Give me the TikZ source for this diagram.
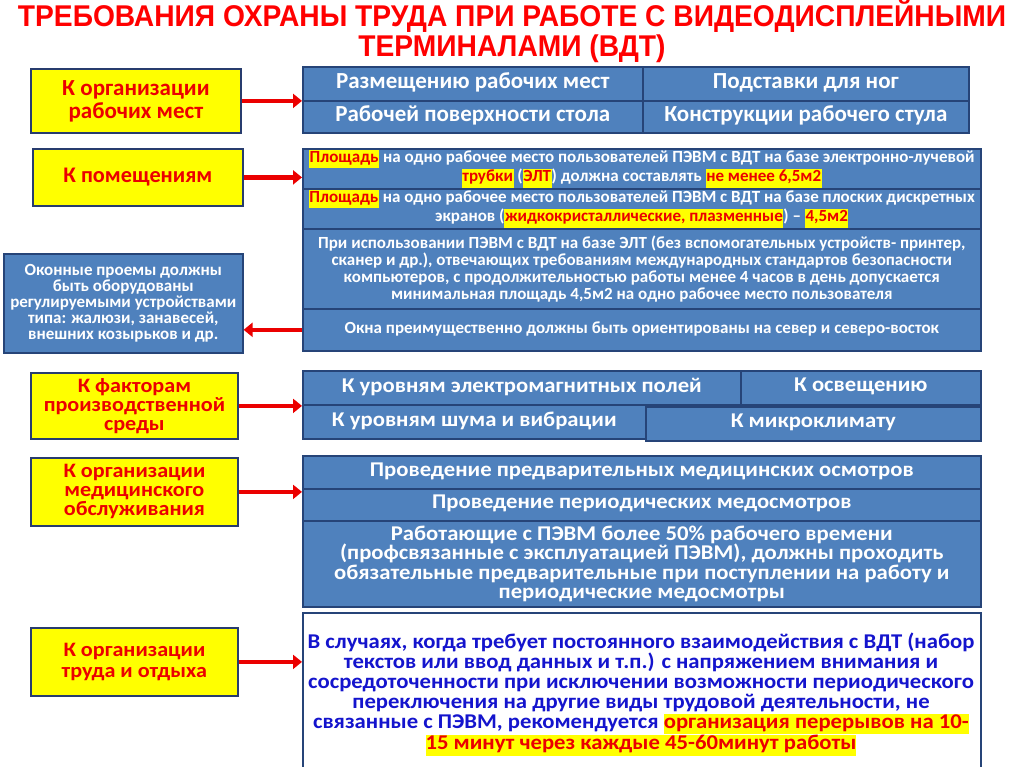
\documentclass[tikz,border=0pt]{standalone}
\usepackage{fontspec}
\setmainfont{Carlito}
\newfontfamily\titlefont{Liberation Sans}
\newfontfamily\widefont[FakeStretch=1.08]{Carlito}
\usetikzlibrary{arrows.meta}
\definecolor{boxblue}{RGB}{79,129,189}
\definecolor{bordblue}{RGB}{38,68,120}
\definecolor{ybord}{RGB}{40,60,110}
\definecolor{hlyellow}{RGB}{255,255,0}
\definecolor{txtred}{RGB}{235,0,0}
\definecolor{txtblue}{RGB}{20,20,205}
\newcommand\hlr[1]{{\setlength\fboxsep{0.6pt}\colorbox{hlyellow}{\color{txtred}\strut #1}}}
\newcommand\hlb[1]{{\setlength\fboxsep{0pt}\colorbox{hlyellow}{\color{txtred}\strut #1}}}
\tikzset{
  cell/.style={draw=bordblue, fill=boxblue, line width=1.6pt, text=white, align=center, inner sep=0pt, anchor=north west},
  ybox/.style={draw=ybord, fill=hlyellow, line width=1.8pt, text=txtred, align=center, inner sep=0pt, anchor=north west},
  arr/.style={draw=txtred, line width=4.5pt, -{Triangle[length=9pt,width=14pt]}},
  sl/.style={execute at begin node=\strut},
  big/.style={font=\bfseries\fontsize{23}{23}\selectfont},
  mid/.style={font=\widefont\bfseries\fontsize{21}{19.5}\selectfont},
  ynarrow/.style={font=\widefont\bfseries\fontsize{20.5}{19}\selectfont},
  small/.style={font=\bfseries\fontsize{17}{17}\selectfont},
}
\begin{document}
\begin{tikzpicture}[x=1pt,y=-1pt]
\useasboundingbox[fill=white] (0,0) rectangle (1024,767);
% title
\node[text=red, align=center, font=\titlefont\bfseries\fontsize{30}{30}\selectfont] (title) at (512,31)
  {\scalebox{0.94}[1]{ТРЕБОВАНИЯ ОХРАНЫ ТРУДА ПРИ РАБОТЕ С ВИДЕОДИСПЛЕЙНЫМИ}\\\scalebox{0.94}[1]{ТЕРМИНАЛАМИ (ВДТ)}};
% group 1
\node[ybox, big, minimum width=210pt, minimum height=64pt] (y1) at (30,68) {К организации\\рабочих мест};
\node[cell, big, sl, minimum width=340pt, minimum height=34pt] (r11) at (302,66) {Размещению рабочих мест};
\node[cell, big, sl, minimum width=326pt, minimum height=34pt] (r12) at (642,66) {Подставки для ног};
\node[cell, big, sl, minimum width=340pt, minimum height=32pt] (r21) at (302,100) {Рабочей поверхности стола};
\node[cell, big, sl, minimum width=326pt, minimum height=32pt] (r22) at (642,100) {Конструкции рабочего стула};
\draw[arr] (y1.east) -- (y1.east -| r21.west);
% group 2
\node[ybox, font=\bfseries\fontsize{22.3}{23}\selectfont, minimum width=210pt, minimum height=57pt] (y2) at (32,148) {К помещениям};
\node[cell, small, minimum width=678pt, minimum height=40pt] (g2a) at (302,148)
  {\hlr{Площадь} на одно рабочее место пользователей ПЭВМ с ВДТ на базе электронно-лучевой\\
   \hlr{трубки} (\hlr{ЭЛТ}) должна составлять \hlr{не менее 6,5м2}};
\node[cell, small, minimum width=678pt, minimum height=40pt] (g2b) at (302,188)
  {\hlr{Площадь} на одно рабочее место пользователей ПЭВМ с ВДТ на базе плоских дискретных\\
   экранов (\hlr{жидкокристаллические, плазменные}) – \hlr{4,5м2}};
\node[cell, small, minimum width=678pt, minimum height=80pt] (g2c) at (302,228)
  {При использовании ПЭВМ с ВДТ на базе ЭЛТ (без вспомогательных устройств- принтер,\\
   сканер и др.), отвечающих требованиям международных стандартов безопасности\\
   компьютеров, с продолжительностью работы менее 4 часов в день допускается\\
   минимальная площадь 4,5м2 на одно рабочее место пользователя};
\node[cell, small, sl, minimum width=678pt, minimum height=42pt] (g2d) at (302,308)
  {Окна преимущественно должны быть ориентированы на север и северо-восток};
\node[cell, font=\bfseries\fontsize{17}{15.8}\selectfont, minimum width=239pt, minimum height=99pt] (lb) at (3,253)
  {Оконные проемы должны\\быть оборудованы\\регулируемыми устройствами\\типа: жалюзи, занавесей,\\внешних козырьков и др.};
\draw[arr] (y2.east) -- (y2.east -| g2a.west);
\draw[arr] (g2d.west) -- (g2d.west -| lb.east);
% group 3
\node[ybox, ynarrow, minimum width=207pt, minimum height=66pt] (y3) at (30,372) {К факторам\\производственной\\среды};
\node[cell, mid, sl, minimum width=438pt, minimum height=34pt] (e1) at (302,370) {К уровням электромагнитных полей};
\node[cell, mid, sl, minimum width=240pt, minimum height=34pt] (e2) at (740,370) {К освещению};
\node[cell, mid, sl, minimum width=343pt, minimum height=34pt] (e3) at (302,404) {К уровням шума и вибрации};
\node[cell, mid, sl, minimum width=335pt, minimum height=34pt] (e4) at (645,406) {К микроклимату};
\draw[arr] (y3.east) -- (y3.east -| e1.west);
% group 4
\node[ybox, ynarrow, minimum width=207pt, minimum height=68pt] (y4) at (30,457) {К организации\\медицинского\\обслуживания};
\node[cell, mid, sl, minimum width=678pt, minimum height=33pt] (m1) at (302,455) {Проведение предварительных медицинских осмотров};
\node[cell, mid, sl, minimum width=678pt, minimum height=32pt] (m2) at (302,488) {Проведение периодических медосмотров};
\node[cell, mid, minimum width=678pt, minimum height=86pt] (m3) at (302,520)
  {Работающие с ПЭВМ более 50\% рабочего времени\\
   (профсвязанные с эксплуатацией ПЭВМ), должны проходить\\
   обязательные предварительные при поступлении на работу и\\
   периодические медосмотры};
\draw[arr] (y4.east) -- (y4.east -| m1.west);
% group 5
\node[ybox, font=\widefont\bfseries\fontsize{20.5}{21}\selectfont, minimum width=207pt, minimum height=68pt] (y5) at (30,627) {К организации\\труда и отдыха};
\node[draw=bordblue, fill=white, line width=1.6pt, anchor=north west, minimum width=678pt, minimum height=170pt] (w) at (302,612) {};
\node[text=txtblue, align=center, font=\widefont\bfseries\fontsize{21}{20}\selectfont] (wt) at (641,694)
  {В случаях, когда требует постоянного взаимодействия с ВДТ (набор\\
   текстов или ввод данных и т.п.) с напряжением внимания и\\
   сосредоточенности при исключении возможности периодического\\
   переключения на другие виды трудовой деятельности, не\\
   связанные с ПЭВМ, рекомендуется \hlb{организация перерывов на 10-}\\
   \hlb{15 минут через каждые 45-60минут работы}};
\draw[arr] (y5.east) -- (y5.east -| w.west);
\end{tikzpicture}
\end{document}
